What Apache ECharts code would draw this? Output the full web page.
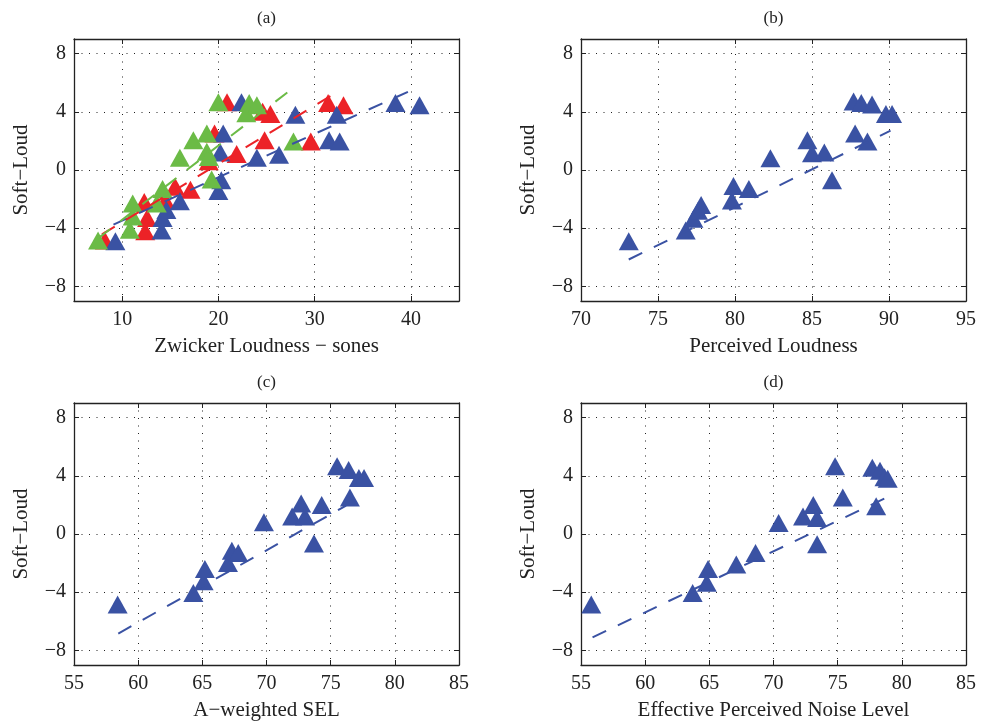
<!DOCTYPE html>
<html><head><meta charset="utf-8">
<script src="https://cdn.jsdelivr.net/npm/echarts@6/dist/echarts.min.js"></script>
<style>html,body{margin:0;padding:0;background:#fff}#c{width:981px;height:725px}</style>
</head><body><div id="c"></div>
<script>
// ---- tick labels ----
const yTicks = [-8, -4, 0, 4, 8];
const xTicksA = [10, 20, 30, 40];
const xTicksB = [70, 75, 80, 85, 90, 95];
const xTicksC = [55, 60, 65, 70, 75, 80, 85];
const xTicksD = [55, 60, 65, 70, 75, 80, 85];

const panelTitles = ['(a)', '(b)', '(c)', '(d)'];
const xNames = ['Zwicker Loudness \u2212 sones', 'Perceived Loudness', 'A\u2212weighted SEL', 'Effective Perceived Noise Level'];
const yName = 'Soft\u2212Loud';

// ---- panel (a): Zwicker loudness, three groups ----
const aBlueX = [9.3, 14.1, 14.2, 14.6, 16.0, 20.0, 20.3, 20.2, 20.5, 22.4, 24.0, 26.3, 28.0, 31.5, 32.6, 32.3, 38.4, 40.9];
const aBlueY = [-4.9, -4.15, -3.3, -2.75, -2.15, -1.45, -0.7, 1.2, 2.5, 4.65, 0.85, 1.05, 3.8, 2.05, 1.95, 3.8, 4.6, 4.45];
const aRedX = [8.2, 12.4, 12.6, 12.3, 14.5, 15.5, 17.1, 19.0, 19.6, 20.9, 21.9, 24.8, 24.6, 25.4, 29.6, 31.4, 33.0];
const aRedY = [-4.85, -4.2, -3.3, -2.2, -2.1, -1.15, -1.35, 0.6, 2.5, 4.65, 1.1, 2.05, 4.0, 3.85, 1.95, 4.6, 4.45];
const aGreenX = [7.5, 10.8, 11.1, 11.1, 13.6, 14.2, 16.0, 17.4, 18.8, 18.8, 19.0, 19.3, 20.0, 22.9, 23.2, 24.0, 27.8];
const aGreenY = [-4.85, -4.1, -3.2, -2.3, -2.3, -1.3, 0.85, 2.05, 2.5, 1.25, 0.9, -0.65, 4.65, 3.9, 4.6, 4.45, 1.95];
const fitABlue = [[9.1, -3.75], [40.9, 5.73]];
const fitARed = [[7.9, -4.42], [32.6, 5.46]];
const fitAGreen = [[7.5, -4.7], [27.3, 5.4]];

// ---- panel (b): perceived loudness ----
const bX = [73.1, 76.8, 77.3, 77.6, 77.8, 79.8, 79.9, 80.9, 82.3, 84.7, 85.0, 85.8, 86.3, 87.7, 88.2, 88.9, 89.8, 90.2, 87.8, 88.6];
const bY = [-4.9, -4.15, -3.35, -2.8, -2.4, -2.1, -1.1, -1.3, 0.8, 2.05, 1.15, 1.2, -0.7, 4.7, 4.6, 4.5, 3.85, 3.85, 2.5, 1.95];
const fitB = [[73.1, -6.15], [90.1, 2.7]];

// ---- panel (c): A-weighted SEL ----
const cX = [58.4, 64.3, 65.1, 65.2, 67.0, 67.3, 67.8, 69.8, 72.0, 72.7, 73.0, 73.7, 74.3, 75.5, 76.4, 77.2, 77.6, 76.5];
const cY = [-4.85, -4.05, -3.25, -2.4, -2.0, -1.15, -1.3, 0.8, 1.2, 2.1, 1.2, -0.65, 2.0, 4.65, 4.4, 3.85, 3.85, 2.5];
const fitC = [[58.45, -6.84], [76.2, 1.95]];

// ---- panel (d): EPNL ----
const dX = [55.8, 63.7, 64.8, 64.9, 67.1, 68.6, 70.4, 72.3, 73.1, 73.4, 73.4, 74.8, 75.4, 77.7, 78.3, 78.65, 78.9, 78.0];
const dY = [-4.85, -4.05, -3.35, -2.4, -2.1, -1.3, 0.75, 1.2, 2.0, 1.1, -0.7, 4.65, 2.5, 4.55, 4.35, 3.9, 3.8, 1.9];
const fitD = [[55.9, -7.1], [78.8, 2.5]];

// ---- styling ----
const BLUE = '#3a52a3', RED = '#ec2227', GREEN = '#6bbb46';
const FONT = 'Liberation Serif';
const INK = '#222';
const grids = [
  {left: 74, top: 39, width: 385, height: 262},
  {left: 581, top: 39, width: 385, height: 262},
  {left: 74, top: 403, width: 385, height: 262},
  {left: 581, top: 403, width: 385, height: 262}
];
const xRanges = [[5, 45], [70, 95], [55, 85], [55, 85]];
const xTickSets = [xTicksA, xTicksB, xTicksC, xTicksD];

const zip = (xs, ys) => xs.map((x, i) => [x, ys[i]]);
const fmt = v => String(v).replace('-', '\u2212');
const gridLine = {show: true, lineStyle: {color: '#222', width: 1, type: [1, 6.5]}};

const xAxis = [], yAxis = [];
grids.forEach((g, i) => {
  const ticks = xTickSets[i];
  const common = {
    gridIndex: i, type: 'value',
    axisLine: {show: true, onZero: false, lineStyle: {color: INK, width: 1.3}},
  };
  xAxis.push(Object.assign({}, common, {
    position: 'bottom', min: xRanges[i][0], max: xRanges[i][1],
    axisTick: {show: true, inside: true, length: 5, customValues: ticks, lineStyle: {color: INK}},
    axisLabel: {show: true, customValues: ticks, formatter: fmt, fontFamily: FONT, fontSize: 20, color: INK, margin: 9},
    splitLine: gridLine,
    name: xNames[i], nameLocation: 'middle', nameGap: 35,
    nameTextStyle: {fontFamily: FONT, fontSize: 21, color: INK}
  }));
  xAxis.push(Object.assign({}, common, {
    position: 'top', min: xRanges[i][0], max: xRanges[i][1],
    axisTick: {show: true, inside: true, length: 5, customValues: ticks, lineStyle: {color: INK}},
    axisLabel: {show: false}, splitLine: {show: false}
  }));
  yAxis.push(Object.assign({}, common, {
    position: 'left', min: -9, max: 9,
    axisTick: {show: true, inside: true, length: 5, customValues: yTicks, lineStyle: {color: INK}},
    axisLabel: {show: true, customValues: yTicks, formatter: fmt, fontFamily: FONT, fontSize: 20, color: INK, margin: 8},
    splitLine: gridLine,
    name: yName, nameLocation: 'middle', nameGap: 42,
    nameTextStyle: {fontFamily: FONT, fontSize: 21, color: INK}
  }));
  yAxis.push(Object.assign({}, common, {
    position: 'right', min: -9, max: 9,
    axisTick: {show: true, inside: true, length: 5, customValues: yTicks, lineStyle: {color: INK}},
    axisLabel: {show: false}, splitLine: {show: false}
  }));
});

function scatter(gi, data, color) {
  return {type: 'scatter', xAxisIndex: 2 * gi, yAxisIndex: 2 * gi, data: data,
    symbol: 'triangle', symbolSize: [20, 18], itemStyle: {color: color, opacity: 1}, z: 2};
}
function fit(gi, data, color) {
  return {type: 'line', xAxisIndex: 2 * gi, yAxisIndex: 2 * gi, data: data, symbol: 'none',
    lineStyle: {color: color, width: 2, type: [15, 13]}, z: 3};
}

const series = [
  scatter(0, zip(aRedX, aRedY), RED),
  scatter(0, zip(aBlueX, aBlueY), BLUE),
  scatter(0, zip(aGreenX, aGreenY), GREEN),
  fit(0, fitABlue, BLUE), fit(0, fitARed, RED), fit(0, fitAGreen, GREEN),
  scatter(1, zip(bX, bY), BLUE), fit(1, fitB, BLUE),
  scatter(2, zip(cX, cY), BLUE), fit(2, fitC, BLUE),
  scatter(3, zip(dX, dY), BLUE), fit(3, fitD, BLUE)
];

const graphic = grids.map((g, i) => ({
  type: 'text', x: g.left + g.width / 2, y: g.top - 20,
  style: {text: panelTitles[i], align: 'center', verticalAlign: 'middle', font: '17px "Liberation Serif"', fill: INK}
}));

const chart = echarts.init(document.getElementById('c'), null, {renderer: 'canvas'});
chart.setOption({animation: false, backgroundColor: '#fff', grid: grids, xAxis, yAxis, series, graphic});
</script></body></html>
